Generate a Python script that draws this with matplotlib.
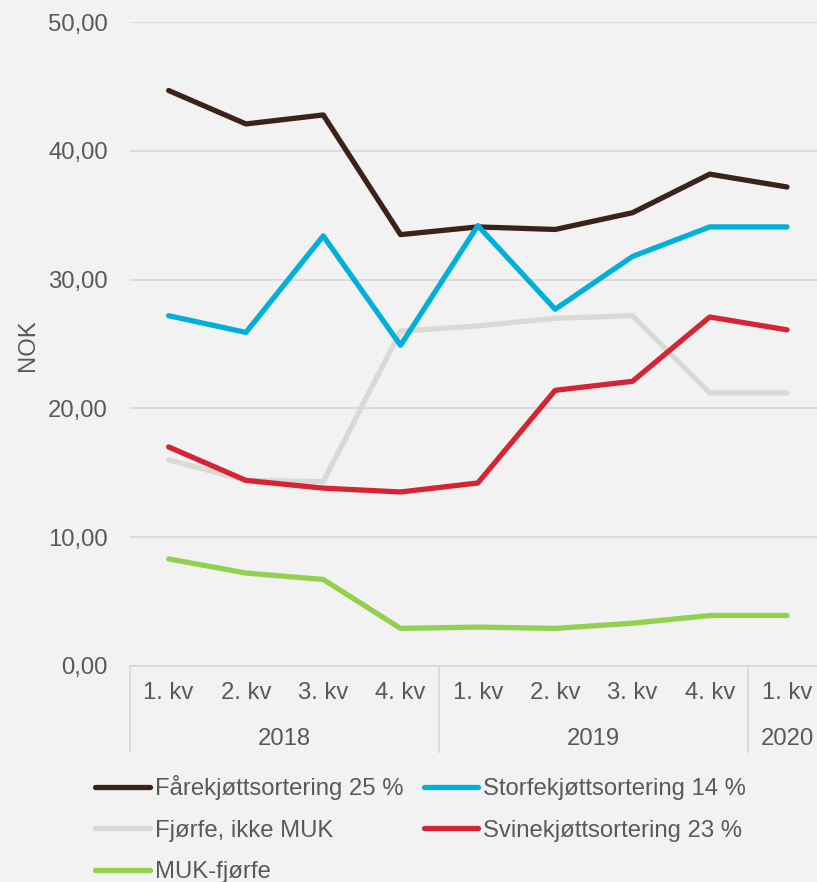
import matplotlib
matplotlib.use("Agg")
import matplotlib.pyplot as plt
import matplotlib.transforms as mtransforms
import numpy as np

plt.rcParams['font.family'] = ['Liberation Sans', 'DejaVu Sans']

quarters = ["1. kv", "2. kv", "3. kv", "4. kv", "1. kv", "2. kv", "3. kv", "4. kv", "1. kv"]
years = ["2018", "2019", "2020"]
year_of_quarter = [0, 0, 0, 0, 1, 1, 1, 1, 2]

farekjott = [44.7, 42.1, 42.8, 33.5, 34.1, 33.9, 35.2, 38.2, 37.2]
storfe = [27.2, 25.9, 33.4, 24.9, 34.2, 27.7, 31.8, 34.1, 34.1]
fjorfe_ikke_muk = [16.0, 14.4, 14.3, 26.0, 26.4, 27.0, 27.2, 21.2, 21.2]
svinekjott = [17.0, 14.4, 13.8, 13.5, 14.2, 21.4, 22.1, 27.1, 26.1]
muk_fjorfe = [8.3, 7.2, 6.7, 2.9, 3.0, 2.9, 3.3, 3.9, 3.9]

yticks = [0, 10, 20, 30, 40, 50]
ytick_labels = ["0,00", "10,00", "20,00", "30,00", "40,00", "50,00"]

BG = "#f2f2f2"
GRID = "#d9d9d9"
TXT = "#595959"
FS = 17.2

W, H = 817, 882
fig = plt.figure(figsize=(W / 100, H / 100), dpi=100, facecolor=BG)
band = 77.3
left_px, top_px, bottom_px = 130, 22.3, 665.7
ax = fig.add_axes([left_px / W, (H - bottom_px) / H, 9 * band / W, (bottom_px - top_px) / H])
ax.set_facecolor(BG)

x = np.arange(len(quarters))
lw = 3.8
ax.plot(x, fjorfe_ikke_muk, color="#d9d9d6", lw=lw, solid_capstyle="round", zorder=2, label="Fjørfe, ikke MUK")
ax.plot(x, muk_fjorfe, color="#92d050", lw=lw, solid_capstyle="round", zorder=3, label="MUK-fjørfe")
ax.plot(x, svinekjott, color="#d62433", lw=lw, solid_capstyle="round", zorder=3, label="Svinekjøttsortering 23 %")
ax.plot(x, farekjott, color="#3a2318", lw=lw, solid_capstyle="round", zorder=3, label="Fårekjøttsortering 25 %")
ax.plot(x, storfe, color="#00b0da", lw=lw, solid_capstyle="round", zorder=4, label="Storfekjøttsortering 14 %")

ax.set_xlim(-0.5, len(quarters) - 0.5)
ax.set_ylim(0, 50)
ax.set_yticks(yticks)
ax.set_yticklabels(ytick_labels)
ax.tick_params(axis='y', length=0, pad=16, labelsize=FS, labelcolor=TXT)
ax.set_xticks([])
for s in ['top', 'right', 'left']:
    ax.spines[s].set_visible(False)
ax.spines['bottom'].set_color(GRID)
ax.spines['bottom'].set_linewidth(1.3)
ax.yaxis.grid(True, color=GRID, lw=1.3)
ax.set_axisbelow(True)

trans = mtransforms.blended_transform_factory(ax.transData, ax.transAxes)
ax_h = bottom_px - top_px
for i, q in enumerate(quarters):
    ax.text(i, -(693 - bottom_px) / ax_h, q, transform=trans, ha='center', va='center',
            fontsize=FS, color=TXT, clip_on=False)
for yi, yname in enumerate(years):
    idx = [i for i, v in enumerate(year_of_quarter) if v == yi]
    ax.text(np.mean(idx), -(739 - bottom_px) / ax_h, yname, transform=trans, ha='center',
            va='center', fontsize=FS, color=TXT, clip_on=False)
# year separators
seps = [-0.5] + [i + 0.5 for i in range(len(quarters) - 1) if year_of_quarter[i] != year_of_quarter[i + 1]]
for sx in seps:
    ax.plot([sx, sx], [0, -(752 - bottom_px) / ax_h], transform=trans, color=GRID, lw=1.3, clip_on=False)

fig.text(28 / W, 1 - 345 / H, "NOK", rotation=90, ha='center', va='center', fontsize=FS, color=TXT)

h = {l.get_label(): l for l in ax.get_lines() if not l.get_label().startswith('_')}
order = ["Fårekjøttsortering 25 %", "Fjørfe, ikke MUK", "MUK-fjørfe",
         "Storfekjøttsortering 14 %", "Svinekjøttsortering 23 %"]
leg = fig.legend([h[k] for k in order], order, ncol=2, loc='upper left',
                 bbox_to_anchor=(95 / W, 1 - 775 / H), frameon=False, fontsize=FS,
                 handlelength=2.3, handletextpad=0.2, columnspacing=0.85,
                 labelspacing=0.82, borderpad=0, borderaxespad=0)
for t in leg.get_texts():
    t.set_color(TXT)

fig.savefig("out.png", dpi=100, facecolor=BG)
